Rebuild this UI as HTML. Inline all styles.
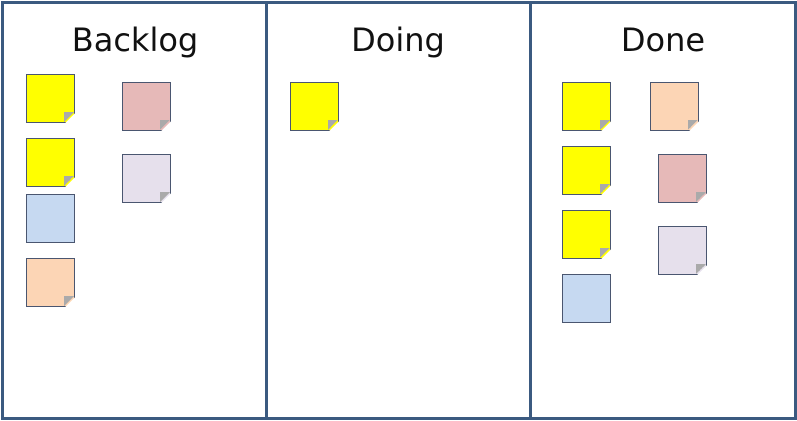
<!DOCTYPE html>
<html><head><meta charset="utf-8"><style>
body{margin:0;width:797px;height:421px;background:#fff;position:relative;overflow:hidden}
.frame{position:absolute;left:1px;top:1px;width:790px;height:413px;border:3px solid #3b5a80;}
.div{position:absolute;top:1px;width:3px;height:419px;background:#3b5a80}
.t{position:absolute;top:21px;font:32px "DejaVu Sans","Liberation Sans",sans-serif;color:#111;text-align:center;width:260px}
.n{position:absolute;width:49px;height:49px;border:1px solid #4a5670;box-sizing:border-box}
.c{clip-path:polygon(0 0,100% 0,100% 80%,80% 100%,0 100%)}
.c::after{content:"";position:absolute;right:0;bottom:0;width:10px;height:10px;background:linear-gradient(135deg,#aaa 50%,transparent 50%)}
.y{background:#ffff00}.p{background:#e6b9b8}.l{background:#e6e0ec}.b{background:#c6d9f1}.o{background:#fcd5b5}
</style></head><body>
<div class="frame"></div>
<div class="div" style="left:265px"></div>
<div class="div" style="left:529px"></div>
<div class="t" style="left:5px">Backlog</div>
<div class="t" style="left:268px">Doing</div>
<div class="t" style="left:533px">Done</div>

<div class="n y c" style="left:26px;top:74px"></div>
<div class="n y c" style="left:26px;top:138px"></div>
<div class="n b" style="left:26px;top:194px"></div>
<div class="n o c" style="left:26px;top:258px"></div>
<div class="n p c" style="left:122px;top:82px"></div>
<div class="n l c" style="left:122px;top:154px"></div>

<div class="n y c" style="left:290px;top:82px"></div>

<div class="n y c" style="left:562px;top:82px"></div>
<div class="n y c" style="left:562px;top:146px"></div>
<div class="n y c" style="left:562px;top:210px"></div>
<div class="n b" style="left:562px;top:274px"></div>
<div class="n o c" style="left:650px;top:82px"></div>
<div class="n p c" style="left:658px;top:154px"></div>
<div class="n l c" style="left:658px;top:226px"></div>
</body></html>
